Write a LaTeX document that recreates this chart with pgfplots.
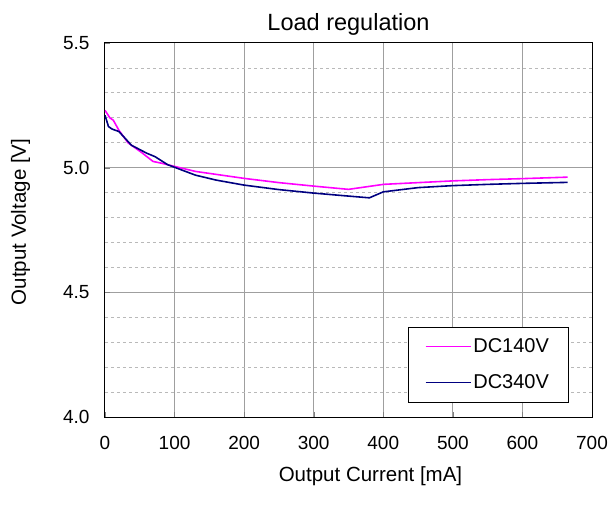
\documentclass[border=0pt]{standalone}
\usepackage{pgfplots}
\pgfplotsset{compat=1.18}
\usepackage{fontspec}
\setmainfont{Liberation Sans}
\definecolor{navyline}{RGB}{0,0,128}
\definecolor{magline}{RGB}{255,0,255}
\begin{document}
\fontsize{19bp}{22bp}\selectfont
\begin{tikzpicture}
\begin{axis}[
	at={(0,0)}, anchor=south west,
	scale only axis,
	width=487bp, height=374bp,
	xmin=0, xmax=700, ymin=4.0, ymax=5.5,
	xtick={0,100,...,700},
	ytick={4.0,4.5,5.0,5.5},
	minor ytick={4.1,4.2,4.3,4.4,4.6,4.7,4.8,4.9,5.1,5.2,5.3,5.4},
	yticklabel style={xshift=-9bp, /pgf/number format/.cd,fixed,fixed zerofill,precision=1},
	/pgf/number format/assume math mode=true,
	tick label style={font=\fontsize{19bp}{22bp}\selectfont},
	xticklabel style={yshift=-13bp},
	label style={font=\fontsize{20.5bp}{24bp}\selectfont},
	title style={font=\fontsize{23.5bp}{27bp}\selectfont, yshift=-5bp},
	title={Load regulation},
	xlabel={Output Current [mA]},
	ylabel={Output Voltage [V]},
	xlabel style={yshift=-4bp, xshift=22bp},
	ylabel style={yshift=20bp, xshift=8bp},
	tick align=inside,
	xtick pos=bottom, ytick pos=left,
	major tick length=5bp, minor tick length=0pt,
	xmajorgrids, ymajorgrids, yminorgrids,
	major grid style={gray!75, line width=1pt},
	minor grid style={gray!55, dashed, line width=0.8pt},
	axis line style={black, line width=1pt},
	legend style={at={(0.951,0.04)}, anchor=south east, draw=black, fill=white,
		font=\fontsize{20bp}{24bp}\selectfont, row sep=15bp, inner xsep=17bp, inner ysep=9bp},
	legend cell align=left,
	legend image code/.code={\draw[#1] (0bp,0bp) -- (45bp,0bp);},
]
\addplot[magline, line width=1.6pt] coordinates {
(0,5.23) (7,5.20) (12,5.19) (20,5.15) (33,5.10) (53,5.06) (69,5.025) (81,5.018)
(100,5.005) (130,4.985) (200,4.957) (250,4.940) (300,4.926) (350,4.913)
(400,4.933) (450,4.940) (500,4.947) (550,4.952) (600,4.956) (665,4.962)
};
\addlegendentry{DC140V}
\addplot[navyline, line width=1.6pt] coordinates {
(0,5.21) (5,5.165) (10,5.155) (20,5.145) (38,5.09) (60,5.058) (72,5.044) (90,5.012)
(130,4.970) (160,4.950) (200,4.930) (250,4.912) (300,4.898) (350,4.886) (380,4.879)
(400,4.903) (450,4.920) (500,4.928) (550,4.933) (600,4.937) (665,4.941)
};
\addlegendentry{DC340V}
\end{axis}
\useasboundingbox (-105bp,-89bp) rectangle (511bp,417bp);
\end{tikzpicture}
\end{document}
